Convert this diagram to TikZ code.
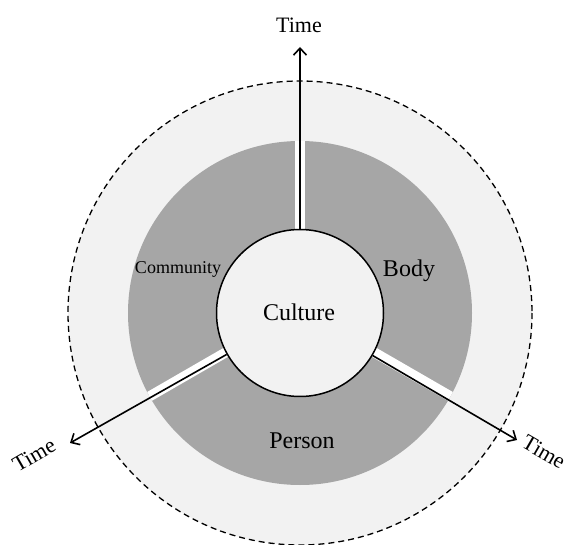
\documentclass[tikz,border=0pt]{standalone}
\usepackage{fontspec}
\setmainfont{Liberation Serif}
\usetikzlibrary{arrows.meta,calc}
\definecolor{outerbg}{HTML}{F2F2F2}
\definecolor{sector}{HTML}{A6A6A6}
\tikzset{
  timearrow/.style={line width=1.6pt,-{Straight Barb[length=7pt,width=13pt]}},
  gapstripe/.style={white,line width=10pt},
  biglabel/.style={font=\fontsize{24}{28}\selectfont,inner sep=0pt,anchor=base},
  timelabel/.style={font=\fontsize{22}{26}\selectfont,inner sep=0pt},
}
\begin{document}
\begin{tikzpicture}[x=1pt,y=-1pt]
\useasboundingbox (0,0) rectangle (568,545);
\clip (0,0) rectangle (568,545);
\coordinate (C) at (300,313);
% outer dashed circle
\draw[fill=outerbg,line width=1.3pt,dash pattern=on 6pt off 4pt] (C) circle[radius=232];
% gray annulus
\fill[sector] (C) circle[radius=172];
% gaps
\begin{scope}
  \clip (C) circle[radius=172];
  \draw[gapstripe] (C) -- ++(0,-180);
  \draw[gapstripe] ($(C)+(-1.5,-2.6)$) -- ++(-155.9,90);
  \draw[gapstripe] ($(C)+(1.5,-2.6)$) -- ++(155.9,90);
\end{scope}
% central circle
\node[circle,draw,line width=1.5pt,fill=outerbg,minimum size=167pt,inner sep=0pt] (culture) at (C) {};
% arrows
\coordinate (tTop) at (300,47);
\coordinate (tLeft) at (70,443);
\coordinate (tRight) at (517,440);
\draw[timearrow] (culture.north) -- (tTop);
\draw[timearrow] (culture) -- (tLeft);
\draw[timearrow] (culture) -- (tRight);
% labels
\node[biglabel] (lCulture) at (299,321) {Culture};
\node[biglabel] (lBody) at (409,277) {Body};
\node[biglabel] (lPerson) at (302,449) {Person};
\node[biglabel,font=\fontsize{18}{22}\selectfont] (lCommunity) at (178,274) {Community};
\node[timelabel,anchor=base] (timeTop) at (299,33) {Time};
\node[timelabel,rotate=30] (timeLeft) at (34,455) {Time};
\node[timelabel,rotate=-30] (timeRight) at (544,452) {Time};
\end{tikzpicture}
\end{document}
